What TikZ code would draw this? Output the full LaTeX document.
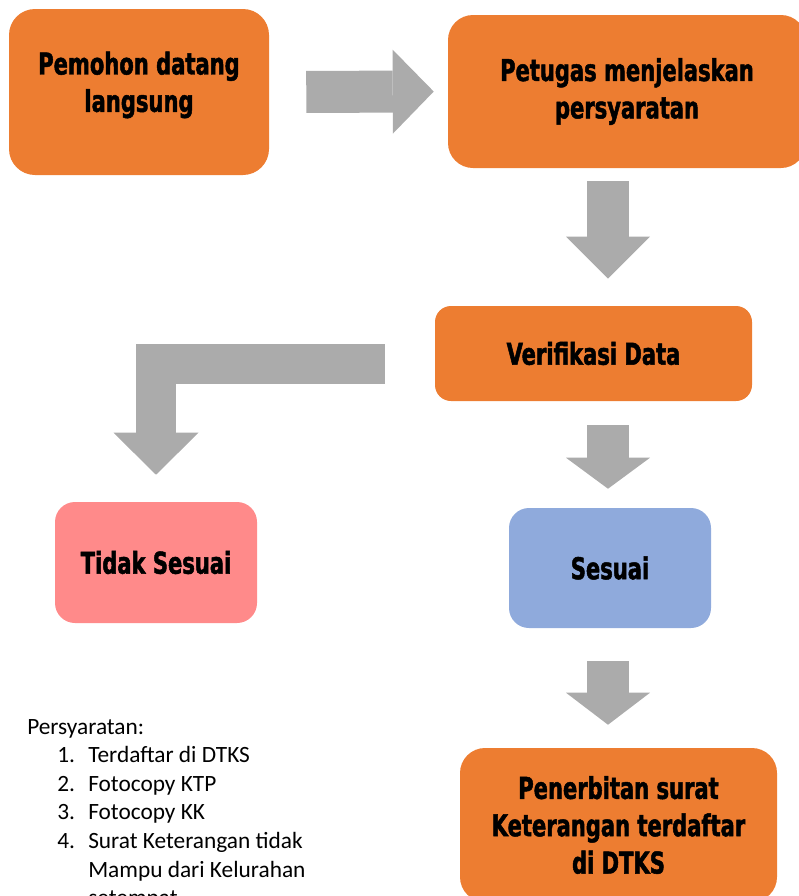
\documentclass[tikz,border=0pt]{standalone}
\usepackage{fontspec}
\newfontfamily\boxfont[FakeStretch=0.78,FakeBold=1.6]{DejaVu Sans Condensed Bold}
\newfontfamily\listfont{Carlito}
\usetikzlibrary{arrows.meta}
\definecolor{oranye}{HTML}{ED7D31}
\definecolor{merah}{HTML}{FF8A8A}
\definecolor{biru}{HTML}{8FAADC}
\definecolor{abu}{HTML}{ABABAB}
\tikzset{
  kotak/.style={rounded corners=15pt, inner sep=0pt, align=center,
    font=\boxfont\fontsize{22.5}{28}\selectfont},
  teks/.style={inner sep=0pt, align=center, font=\boxfont\fontsize{22.5}{28}\selectfont},
  panah/.style={draw=abu, line width=31.5pt, line join=miter},
  daftar/.style={inner sep=0pt, font=\listfont\fontsize{17.5}{21.45}\selectfont},
}
\begin{document}
\begin{tikzpicture}[x=0.75pt,y=-0.75pt]
\useasboundingbox (0,0) rectangle (799,896);
% kotak alur
\node[kotak, fill=oranye, rounded corners=19.5pt, minimum width=195pt, minimum height=124.5pt] (pemohon) at (139,92) {};
\node[teks] (pemohonteks) at (139,85) {Pemohon datang\\langsung};
\node[kotak, fill=oranye, rounded corners=18.75pt, minimum width=268.5pt, minimum height=114.75pt] (petugas) at (627,91.5) {Petugas menjelaskan\\persyaratan};
\node[kotak, fill=oranye, rounded corners=12pt, minimum width=237.75pt, minimum height=71.25pt] (verifikasi) at (593.5,353.5) {Verifikasi Data};
\node[kotak, fill=merah, minimum width=151.5pt, minimum height=90.75pt] (tidak) at (156,562.5) {Tidak Sesuai};
\node[kotak, fill=biru, minimum width=151.5pt, minimum height=90pt] (sesuai) at (610,568) {Sesuai};
\node[kotak, fill=oranye, rounded corners=18.75pt, minimum width=237.75pt, minimum height=115.5pt] (penerbitan) at (618.5,825) {Penerbitan surat\\Keterangan terdaftar\\di DTKS};
% panah besar
\coordinate (kolom) at (608,0);
\draw[panah, -{Triangle[length=30.75pt,width=63pt,line width=0pt 0]}, shorten <=27.75pt, shorten >=10.5pt] (pemohon.east) -- (petugas.west);
\draw[panah, -{Triangle[length=31.5pt,width=63pt,line width=0pt 0]}, shorten <=9.75pt, shorten >=20.25pt] (petugas.south -| kolom) -- (verifikasi.north -| kolom);
\draw[panah, -{Triangle[length=23.25pt,width=63pt,line width=0pt 0]}, shorten <=18pt, shorten >=14.25pt] (verifikasi.south -| kolom) -- (sesuai.north -| kolom);
\draw[panah, -{Triangle[length=24pt,width=63pt,line width=0pt 0]}, shorten <=24.75pt, shorten >=17.25pt] (sesuai.south -| kolom) -- (penerbitan.north -| kolom);
\draw[panah, line width=30pt, -{Triangle[length=31.5pt,width=63.75pt,line width=0pt 0]}, shorten <=37.5pt, shorten >=20.25pt] ([yshift=-7.5pt]verifikasi.west) -| (tidak.north);
% persyaratan
\node[daftar, anchor=base west] (syarat) at (27,734) {\begin{tabular}[t]{@{}l@{}}
Persyaratan:\\
\hspace*{22.5pt}\makebox[23.25pt][l]{1.}Terdaftar di DTKS\\
\hspace*{22.5pt}\makebox[23.25pt][l]{2.}Fotocopy KTP\\
\hspace*{22.5pt}\makebox[23.25pt][l]{3.}Fotocopy KK\\
\hspace*{22.5pt}\makebox[23.25pt][l]{4.}Surat Keterangan tidak\\
\hspace*{45.75pt}Mampu dari Kelurahan\\
\hspace*{45.75pt}setempat
\end{tabular}};
\end{tikzpicture}
\end{document}
